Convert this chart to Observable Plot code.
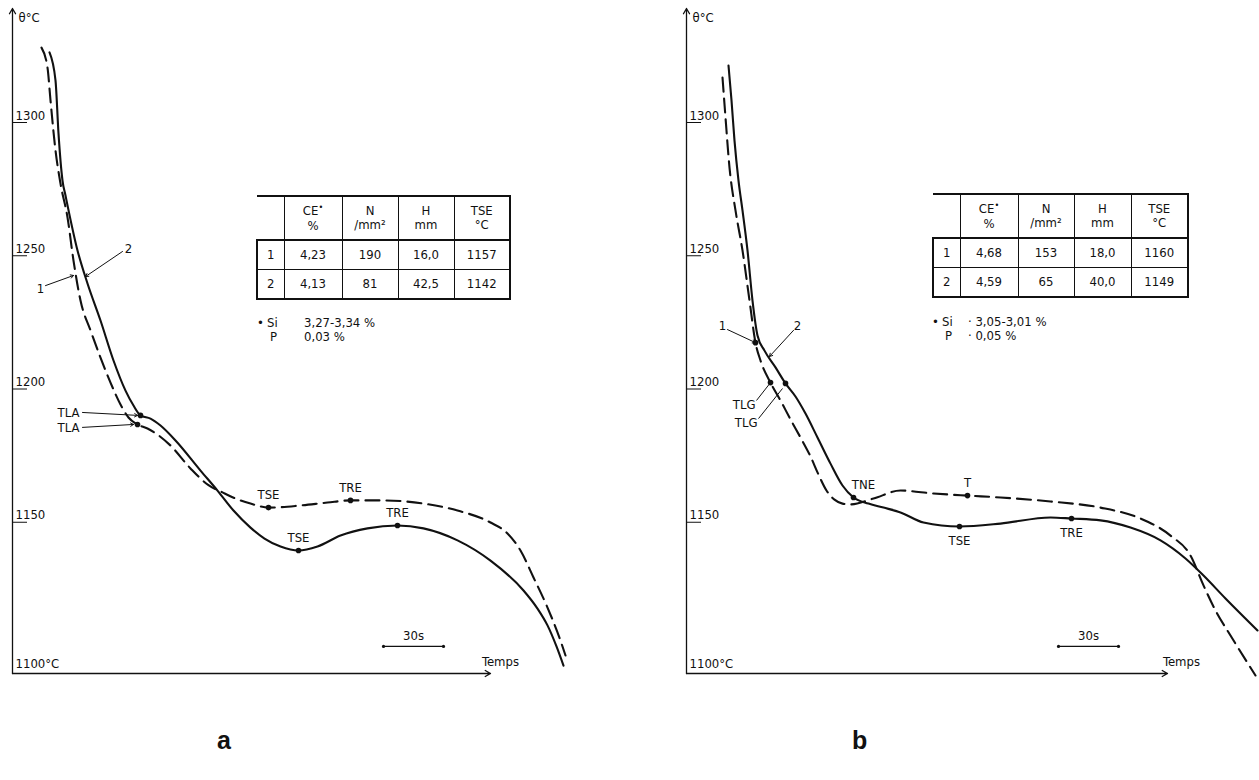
<!DOCTYPE html>
<html><head><meta charset="utf-8">
<script src="https://cdn.jsdelivr.net/npm/d3@7"></script>
<script src="https://cdn.jsdelivr.net/npm/@observablehq/plot@0.6"></script>
<style>
body{margin:0;background:#fff;}
#page{position:relative;width:1259px;height:780px;overflow:hidden;font-family:"DejaVu Sans Condensed","Liberation Sans Narrow","DejaVu Sans",sans-serif;color:#111;}
.panel{position:absolute;top:0;}
table.cmp{position:absolute;border-collapse:collapse;table-layout:fixed;font-size:13px;text-align:center;color:#111;}
table.cmp td{border:1.4px solid #111;padding:0;line-height:14px;}
table.cmp tr.head td{height:42px;border-top:2.5px solid #111;border-bottom:2.5px solid #111;}
table.cmp tr.body td{height:28px;}
table.cmp tr.last td{border-bottom:2.5px solid #111;}
table.cmp td.rownum{border-left:2.5px solid #111;}
table.cmp td.lastcol{border-right:2.5px solid #111;}
table.cmp td.empty{border-top:none;border-left:none;}
.note{position:absolute;font-size:13px;line-height:14px;white-space:nowrap;}
.big{position:absolute;font-family:"Liberation Sans",Arial,sans-serif;font-weight:bold;font-size:25px;}
</style>
</head><body><div id="page"></div>
<script>
// ---------------- data ----------------
const yTicks = [1150, 1200, 1250, 1300];
const yOriginLabel = "1100°C";
const yUnitLabel = "θ°C";
const xAxisLabel = "Temps";
const scaleBarLabel = "30s";
const scaleBarSeconds = 30;

// Panel a : curve 1 (dashed) — time (s), temperature (°C)
const tA1 = [14.5,17.5,19,21.5,24,27.5,30.5,34,39,44,49,54,58,62.5,67.5,79,89,98,105,111.5,119,128,144,157.5,169,185.5,205.5,222.5,239,247.5,254,260.5,267.5,274,276.5];
const thA1 = [1328.1,1320.6,1308.3,1289.5,1277.1,1264.4,1248.2,1233.2,1222.0,1211.8,1202.4,1194.2,1189.3,1186.7,1185.2,1178.8,1170.2,1163.9,1161.2,1158.9,1157.0,1155.5,1156.3,1157.4,1158.2,1158.2,1157.0,1154.4,1149.9,1145.8,1139.4,1129.3,1118.0,1105.6,1100.0];
// Panel a : curve 2 (solid)
const tA2 = [18.5,21.5,23,25,26.5,32.5,37.5,44,50.5,56.5,60.5,64,69,74,81.5,94,102.5,110.5,119,126,134,143,152.5,164,177.5,192.5,205.5,222.5,239,255.5,262.5,267.5,272,275.5];
const thA2 = [1326.3,1315.8,1295.9,1278.2,1272.6,1252.0,1239.6,1225.7,1210.7,1199.4,1193.8,1190.1,1188.9,1186.3,1180.7,1169.4,1161.9,1154.4,1148.0,1143.9,1140.9,1139.4,1140.9,1145.0,1147.7,1148.8,1147.7,1143.2,1135.6,1124.4,1117.6,1111.3,1103.4,1096.2];
// Panel b : curve 1 (dashed)
const tB1 = [18,19.5,21.5,24.5,28,31.5,34.5,37,42,47,52,57,62,66,70,74,78,82,93.5,107,123.5,140.5,157,182,207,227,242,252,258.5,264.5,272,284.5];
const thB1 = [1316.9,1301.9,1283.1,1267.0,1252.0,1233.2,1217.4,1210.7,1202.4,1195.7,1188.6,1181.8,1174.7,1167.9,1161.9,1158.5,1157.0,1156.7,1158.9,1161.9,1160.8,1160.0,1159.3,1157.8,1155.5,1151.4,1145.0,1137.5,1126.3,1116.9,1107.5,1092.5];
// Panel b : curve 2 (solid)
const tB2 = [21,22.5,24,26,28,30.5,33,35.5,39,44.5,49.5,54.5,59.5,65.5,72,78,83.5,91,98.5,107,118.5,136.5,157,182,192.5,207,222,237,249.5,258.5,269.5,285.5];
const thB2 = [1321.4,1308.3,1293.2,1278.2,1267.0,1252.0,1233.2,1220.1,1214.4,1208.1,1202.1,1197.2,1190.8,1181.8,1172.0,1163.8,1159.3,1157.0,1155.5,1153.7,1149.9,1148.4,1149.5,1151.8,1151.4,1150.7,1148.0,1143.2,1136.4,1130.0,1121.4,1109.4];

// characteristic points (name, time, temperature, label side)
const eventNamesA = ["", "", "TSE", "TRE", "TSE", "TRE"];
const eventTimesA = [64, 62.5, 128, 169, 143, 192.5];
const eventTempsA = [1190.1, 1186.7, 1155.5, 1158.2, 1139.4, 1148.8];
const eventSideA  = ["", "", "above", "above", "above", "above"];

const eventNamesB = ["", "", "TNE", "T", "TSE", "TRE", ""];
const eventTimesB = [42, 49.5, 83.5, 140.5, 136.5, 192.5, 34.5];
const eventTempsB = [1202.4, 1202.1, 1159.3, 1160.0, 1148.4, 1151.4, 1217.4];
const eventSideB  = ["", "", "aboveRight", "above", "below", "below", ""];

// leader annotations: label, label anchor point, line from -> to
const leadersA = [
  {label:"TLA", lx:33.5, ly:1191.2, anchor:"end",    x1:35,   y1:1191.2, x2:62.5, y2:1190.1, head:5},
  {label:"TLA", lx:33.5, ly:1185.6, anchor:"end",    x1:35,   y1:1185.6, x2:60.5, y2:1186.7, head:5},
  {label:"1",   lx:14,   ly:1237.7, anchor:"middle", x1:16.5, y1:1238.8, x2:30.5, y2:1242.6, head:4},
  {label:"2",   lx:58,   ly:1252.7, anchor:"middle", x1:55,   y1:1251.6, x2:36.5, y2:1242.2, head:4}
];
const leadersB = [
  {label:"1",   lx:18,   ly:1223.8, anchor:"middle", x1:20.5, y1:1222.3, x2:34.5, y2:1217.4, head:4},
  {label:"2",   lx:55.5, ly:1223.8, anchor:"middle", x1:53.5, y1:1222.0, x2:41.5, y2:1212.2, head:4},
  {label:"TLG", lx:34.5, ly:1194.2, anchor:"end",    x1:35,   y1:1195.7, x2:42,   y2:1202.4, head:0},
  {label:"TLG", lx:35.5, ly:1187.4, anchor:"end",    x1:36,   y1:1188.9, x2:48,   y2:1200.2, head:0}
];

// table contents
const tableHeaderTop = ["CE", "N", "H", "TSE"];
const tableHeaderBottom = ["%", "/mm²", "mm", "°C"];
const tableRowIds = ["1", "2"];
const tableA_CE  = ["4,23", "4,13"];
const tableA_N   = ["190", "81"];
const tableA_H   = ["16,0", "42,5"];
const tableA_TSE = ["1157", "1142"];
const tableB_CE  = ["4,68", "4,59"];
const tableB_N   = ["153", "65"];
const tableB_H   = ["18,0", "40,0"];
const tableB_TSE = ["1160", "1149"];
const notesA = [["Si", "3,27‐3,34 %"], ["P", "0,03 %"]];
const notesB = [["Si", "3,05‐3,01 %"], ["P", "0,05 %"]];
const panelLetters = ["a", "b"];

// ---------------- build ----------------
const yDomain = [1093.25, 1342.78];
const zipCurve = (t, th) => t.map((v, i) => ({t: v, theta: th[i]}));
const zipEvents = (n, t, th, s) => n.map((v, i) => ({name: v, t: t[i], theta: th[i], side: s[i]}));

function panel({width, marginLeft, marginRight, xDomain, dashed, solid, events, leaders, axisEnd, barStart, tempsX}) {
  const ink = "#111";
  const marks = [
    Plot.arrow([0], {x1: 0, y1: yDomain[0], x2: 0, y2: yDomain[1], stroke: ink, strokeWidth: 1.3, headLength: 7}),
    Plot.arrow([0], {x1: 0, y1: yDomain[0], x2: axisEnd, y2: yDomain[0], stroke: ink, strokeWidth: 1.3, headLength: 7}),
    Plot.ruleY(yTicks, {y: d => d, x1: 0, x2: 7.5, stroke: ink, strokeWidth: 1}),
    Plot.text(yTicks, {x: 0, y: d => d, text: d => String(d), textAnchor: "start", dx: 3, dy: -7, fill: ink}),
    Plot.text([yOriginLabel], {x: 0, y: yDomain[0], text: d => d, textAnchor: "start", dx: 3, dy: -10, fill: ink}),
    Plot.text([yUnitLabel], {x: 0, y: yDomain[1], text: d => d, textAnchor: "start", dx: 6, dy: 9, fill: ink}),
    Plot.line(solid, {x: "t", y: "theta", curve: "monotone-x", stroke: ink, strokeWidth: 2.1}),
    Plot.line(dashed, {x: "t", y: "theta", curve: "monotone-x", stroke: ink, strokeWidth: 2.1, strokeDasharray: "14,7"}),
    Plot.dot(events, {x: "t", y: "theta", r: 2.8, fill: ink}),
    Plot.text(events.filter(d => d.side === "above"), {x: "t", y: "theta", text: "name", dy: -13, fill: ink}),
    Plot.text(events.filter(d => d.side === "aboveRight"), {x: "t", y: "theta", text: "name", dy: -13, dx: 10, fill: ink}),
    Plot.text(events.filter(d => d.side === "below"), {x: "t", y: "theta", text: "name", dy: 14, fill: ink}),
    Plot.arrow(leaders.filter(d => d.head > 0), {x1: "x1", y1: "y1", x2: "x2", y2: "y2", stroke: ink, strokeWidth: 1, headLength: 5}),
    Plot.link(leaders.filter(d => d.head === 0), {x1: "x1", y1: "y1", x2: "x2", y2: "y2", stroke: ink, strokeWidth: 1}),
    Plot.text(leaders.filter(d => d.anchor === "middle"), {x: "lx", y: "ly", text: "label", textAnchor: "middle", fill: ink}),
    Plot.text(leaders.filter(d => d.anchor === "end"), {x: "lx", y: "ly", text: "label", textAnchor: "end", fill: ink}),
    Plot.ruleY([1103.4], {x1: barStart, x2: barStart + scaleBarSeconds, stroke: ink, strokeWidth: 1.2}),
    Plot.dot([barStart, barStart + scaleBarSeconds], {x: d => d, y: 1103.4, r: 1.6, fill: ink}),
    Plot.text([scaleBarLabel], {x: barStart + scaleBarSeconds / 2, y: 1107.4, text: d => d, fill: ink}),
    Plot.text([xAxisLabel], {x: tempsX, y: 1097.6, text: d => d, fill: ink})
  ];
  return Plot.plot({
    width, height: 700, marginLeft, marginRight, marginTop: 8, marginBottom: 27,
    x: {domain: xDomain, axis: null},
    y: {domain: yDomain, axis: null},
    style: {fontFamily: '"DejaVu Sans Condensed","Liberation Sans Narrow","DejaVu Sans",sans-serif', fontSize: "13px", background: "transparent", overflow: "visible"},
    marks
  });
}

const page = document.getElementById("page");

function addPanel(left, svg) {
  const div = document.createElement("div");
  div.className = "panel";
  div.style.left = left + "px";
  div.appendChild(svg);
  page.appendChild(div);
}

addPanel(0, panel({
  width: 629, marginLeft: 12, marginRight: 17, xDomain: [0, 300],
  dashed: zipCurve(tA1, thA1), solid: zipCurve(tA2, thA2),
  events: zipEvents(eventNamesA, eventTimesA, eventTempsA, eventSideA),
  leaders: leadersA, axisEnd: 239, barStart: 185.5, tempsX: 244
}));
addPanel(629, panel({
  width: 630, marginLeft: 57, marginRight: 3, xDomain: [0, 285],
  dashed: zipCurve(tB1, thB1), solid: zipCurve(tB2, thB2),
  events: zipEvents(eventNamesB, eventTimesB, eventTempsB, eventSideB),
  leaders: leadersB, axisEnd: 240.5, barStart: 186, tempsX: 247.5
}));

function addTable(left, top, widths, ce, n, h, tse) {
  const t = document.createElement("table");
  t.className = "cmp";
  t.style.left = left + "px";
  t.style.top = top + "px";
  t.style.width = widths.reduce((a, b) => a + b, 0) + "px";
  const cg = document.createElement("colgroup");
  widths.forEach(w => { const c = document.createElement("col"); c.style.width = w + "px"; cg.appendChild(c); });
  t.appendChild(cg);
  let html = '<tr class="head"><td class="empty"></td>';
  tableHeaderTop.forEach((hd, i) => {
    const top = hd === "CE" ? 'CE<span style="position:relative;top:-5px;font-size:9px">•</span>' : hd;
    html += `<td class="${i === 3 ? "lastcol" : ""}">${top}<br>${tableHeaderBottom[i]}</td>`;
  });
  html += "</tr>";
  tableRowIds.forEach((id, r) => {
    html += `<tr class="body${r === tableRowIds.length - 1 ? " last" : ""}"><td class="rownum">${id}</td><td>${ce[r]}</td><td>${n[r]}</td><td>${h[r]}</td><td class="lastcol">${tse[r]}</td></tr>`;
  });
  t.innerHTML += html;
  page.appendChild(t);
}
addTable(256, 195, [27, 58, 56, 56, 56], tableA_CE, tableA_N, tableA_H, tableA_TSE);
addTable(932, 193, [27, 58, 56, 57, 57], tableB_CE, tableB_N, tableB_H, tableB_TSE);

function addNotes(left, top, notes, valueOffset, sep) {
  notes.forEach((nt, i) => {
    const y = top + i * 14;
    if (i === 0) {
      const b = document.createElement("div"); b.className = "note";
      b.style.left = left + "px"; b.style.top = y + "px"; b.textContent = "•";
      page.appendChild(b);
    }
    const k = document.createElement("div"); k.className = "note";
    k.style.left = (left + (i === 0 ? 10 : 13)) + "px"; k.style.top = y + "px"; k.textContent = nt[0];
    page.appendChild(k);
    const v = document.createElement("div"); v.className = "note";
    v.style.left = (left + valueOffset) + "px"; v.style.top = y + "px"; v.textContent = (sep ? "· " : "") + nt[1];
    page.appendChild(v);
  });
}
addNotes(257, 316, notesA, 47, false);
addNotes(932, 315, notesB, 36, true);

panelLetters.forEach((l, i) => {
  const d = document.createElement("div"); d.className = "big";
  d.style.left = (i === 0 ? 217 : 852) + "px"; d.style.top = "726px"; d.textContent = l;
  page.appendChild(d);
});
</script></body></html>
